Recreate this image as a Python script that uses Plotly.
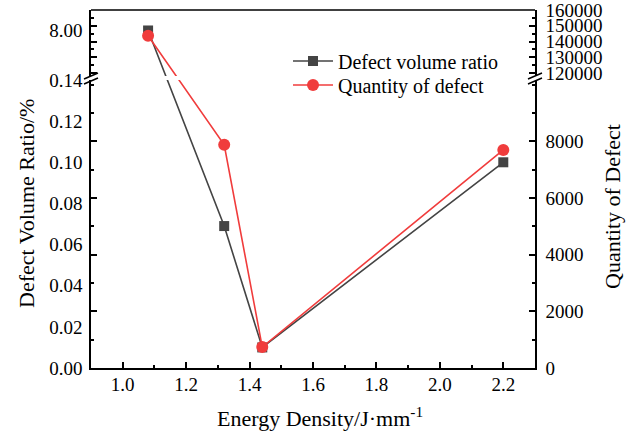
import plotly.graph_objects as go

# ---- data ----
energy_density = [1.08, 1.32, 1.44, 2.2]
defect_volume_ratio = [8.00, 0.069, 0.010, 0.100]      # %
defect_quantity = [143700, 7880, 740, 7700]

left_low_ticks = [0.00, 0.02, 0.04, 0.06, 0.08, 0.10, 0.12, 0.14]
left_up_ticks = [8.00]
right_low_ticks = [0, 2000, 4000, 6000, 8000]
right_up_ticks = [120000, 130000, 140000, 150000, 160000]
x_ticks = [1.0, 1.2, 1.4, 1.6, 1.8, 2.0, 2.2]

# ---- layout geometry (broken axes) ----
W, H = 635, 432
ML, MR, MT, MB = 91, 100, 10, 64
PH = H - MT - MB
PW = W - ML - MR

def py(pix):  # pixel row -> paper fraction
    return (H - MB - pix) / PH

def px(pix):
    return (pix - ML) / PW

LOW_DOM = [0.0, py(80)]
UP_DOM = [py(76), 1.0]
L_LOW = [0.0, 0.14]
L_UP = [7.0, 8.45]
R_LOW = [0.0, 10168]
R_UP = [118095, 160001]
X_RANGE = [0.9, 2.3]

def to_paper(v, rng, dom):
    return dom[0] + (v - rng[0]) / (rng[1] - rng[0]) * (dom[1] - dom[0])

def from_paper(p, rng, dom):
    return rng[0] + (p - dom[0]) / (dom[1] - dom[0]) * (rng[1] - rng[0])

def split(values, lrng, urng):
    papers = [to_paper(v, lrng, LOW_DOM) if v <= lrng[1] else to_paper(v, urng, UP_DOM) for v in values]
    low = [from_paper(p, lrng, LOW_DOM) for p in papers]
    up = [from_paper(p, urng, UP_DOM) for p in papers]
    return low, up

vr_low, vr_up = split(defect_volume_ratio, L_LOW, L_UP)
dq_low, dq_up = split(defect_quantity, R_LOW, R_UP)

BLACK = "#444444"
RED = "#f03c3c"
FONT = "Liberation Serif"

fig = go.Figure()
common_black = dict(mode="lines+markers", line=dict(color=BLACK, width=1.6),
                    marker=dict(symbol="square", size=10, color=BLACK))
common_red = dict(mode="lines+markers", line=dict(color=RED, width=1.6),
                  marker=dict(symbol="circle", size=12, color=RED))

fig.add_trace(go.Scatter(x=energy_density, y=vr_low, xaxis="x", yaxis="y",
                         name="Defect volume ratio", showlegend=True, legend="legend", **common_black))
fig.add_trace(go.Scatter(x=energy_density, y=vr_up, xaxis="x", yaxis="y3",
                         name="Defect volume ratio", showlegend=False, **common_black))
fig.add_trace(go.Scatter(x=energy_density, y=dq_low, xaxis="x", yaxis="y2",
                         name="Quantity of defect", showlegend=True, legend="legend2", **common_red))
fig.add_trace(go.Scatter(x=energy_density, y=dq_up, xaxis="x", yaxis="y4",
                         name="Quantity of defect", showlegend=False, **common_red))

tickfont = dict(family=FONT, size=19, color="black")
axline = dict(showline=True, linecolor="black", linewidth=1.5, showgrid=False,
              zeroline=False, automargin=False)
legfont = dict(family=FONT, size=20, color="black")

fig.update_layout(
    width=W, height=H,
    margin=dict(l=ML, r=MR, t=MT, b=MB, autoexpand=False),
    paper_bgcolor="white", plot_bgcolor="white",
    font=dict(family=FONT, color="black"),
    xaxis=dict(range=X_RANGE, tickvals=x_ticks, ticktext=[f"{v:.1f}" for v in x_ticks],
               ticks="inside", ticklen=6, tickwidth=1.5, tickcolor="black",
               minor=dict(ticks="inside", dtick=0.1, ticklen=3, tickwidth=1.5, tickcolor="black"),
               tickfont=tickfont, anchor="y", ticklabelstandoff=-2, **axline),
    yaxis=dict(domain=LOW_DOM, range=L_LOW, tickvals=left_low_ticks,
               ticktext=[f"{v:.2f}" for v in left_low_ticks], ticks="",
               tickfont=tickfont, anchor="x", ticklabelstandoff=3, **axline),
    yaxis3=dict(domain=UP_DOM, range=L_UP, tickvals=left_up_ticks,
                ticktext=[f"{v:.2f}" for v in left_up_ticks], ticks="",
                tickfont=tickfont, anchor="x", ticklabelstandoff=3, **axline),
    yaxis2=dict(overlaying="y", side="right", anchor="x", range=R_LOW, tickvals=right_low_ticks,
                ticktext=[str(v) for v in right_low_ticks], ticks="inside", ticklen=6,
                tickwidth=1.5, tickcolor="black", mirror="ticks",
                minor=dict(ticks="inside", dtick=1000, ticklen=3, tickwidth=1.5, tickcolor="black"),
                tickfont=tickfont, ticklabelstandoff=5, **axline),
    yaxis4=dict(overlaying="y3", side="right", anchor="x", range=R_UP, tickvals=right_up_ticks,
                ticktext=[str(v) for v in right_up_ticks], ticks="inside", ticklen=6,
                tickwidth=1.5, tickcolor="black", mirror="ticks", ticklabeloverflow="allow",
                minor=dict(ticks="inside", dtick=5000, ticklen=3, tickwidth=1.5, tickcolor="black"),
                tickfont=tickfont, ticklabelstandoff=5, **axline),
    legend=dict(x=px(288), y=py(61), xanchor="left", yanchor="middle", itemwidth=40,
                bgcolor="rgba(0,0,0,0)", font=legfont, borderwidth=0),
    legend2=dict(x=px(288), y=py(85), xanchor="left", yanchor="middle", itemwidth=40,
                 bgcolor="rgba(0,0,0,0)", font=legfont, borderwidth=0),
    showlegend=True,
)

# titles
ann_font = dict(family=FONT, size=22, color="black")
fig.add_annotation(text="Energy Density/J·mm<sup>-1</sup>", xref="paper", yref="paper",
                   x=px(320), y=py(417), xanchor="center", yanchor="middle",
                   showarrow=False, font=ann_font)
fig.add_annotation(text="Defect Volume Ratio/%", xref="paper", yref="paper",
                   x=px(27), y=py(204), xanchor="center", yanchor="middle",
                   showarrow=False, textangle=-90, font=ann_font)
fig.add_annotation(text="Quantity of Defect", xref="paper", yref="paper",
                   x=px(612), y=py(207), xanchor="center", yanchor="middle",
                   showarrow=False, textangle=-90, font=ann_font)

# frame top line
fig.add_shape(type="line", xref="paper", yref="paper", x0=0, x1=1, y0=1, y1=1,
              line=dict(color="black", width=1.5))

# break marks
for ax_x in (ML, ML + PW):
    for cy in (76, 81):
        fig.add_shape(type="line", xref="paper", yref="paper",
                      x0=px(ax_x - 7), y0=py(cy + 3), x1=px(ax_x + 7), y1=py(cy - 3),
                      line=dict(color="black", width=1.5))

fig.write_html("out.html", config={"displayModeBar": False},
               post_script="document.body.style.margin='0';")
